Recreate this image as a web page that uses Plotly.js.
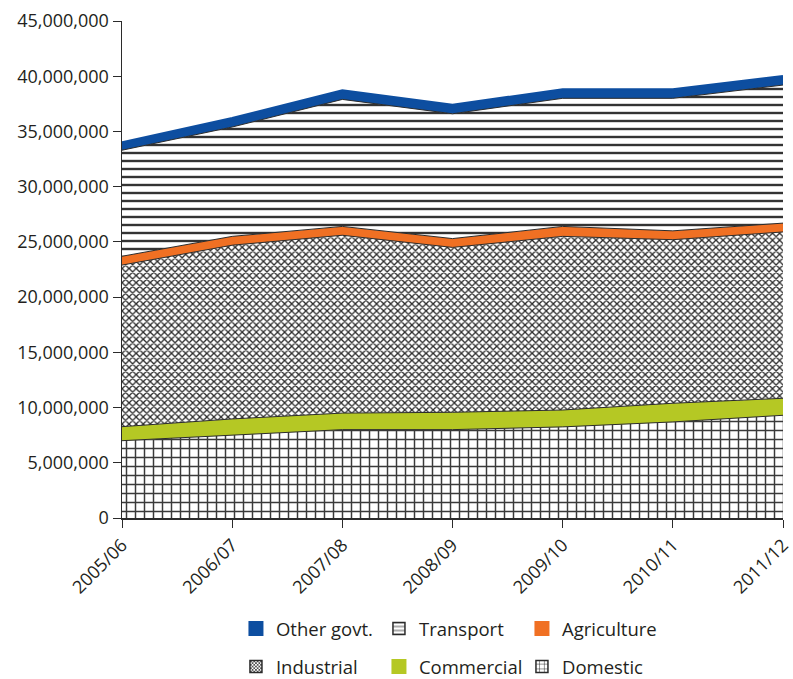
<!DOCTYPE html>
<html>
<head>
<meta charset="utf-8">
<script src="https://cdn.plot.ly/plotly-3.0.1.min.js"></script>
<style>html,body{margin:0;padding:0;background:#fff;}#chart{width:793px;height:679px;}</style>
</head>
<body>
<div id="chart"></div>
<script>
const years = ["2005/06","2006/07","2007/08","2008/09","2009/10","2010/11","2011/12"];
const domestic    = [7000000, 7500000, 8000000, 8000000, 8250000, 8700000, 9300000];
const commercial  = [1270000, 1470000, 1500000, 1570000, 1530000, 1690000, 1540000];
const industrial  = [14630000, 15730000, 16100000, 14930000, 15720000, 14810000, 15060000];
const agriculture = [800000, 800000, 800000, 800000, 900000, 800000, 800000];
const transport   = [9600000, 9900000, 11500000, 11300000, 11600000, 12000000, 12500000];
const otherGovt   = [700000, 800000, 800000, 800000, 800000, 800000, 800000];

const dark = '#2b2b2b';
const blue = '#0d4ea0', orange = '#f07023', green = '#b5c824';

function area(name, y, opts) {
  return Object.assign({
    type: 'scatter', mode: 'lines', x: years, y: y, name: name,
    stackgroup: 'one', line: {color: dark, width: 1}, showlegend: false
  }, opts);
}
// legend-only key entries on a hidden axis pair (nothing is drawn in the plot)
function key(name, legend, marker) {
  return {type: 'bar', x: [0], y: [0], xaxis: 'x2', yaxis: 'y2', name: name,
          legend: legend, showlegend: true, hoverinfo: 'skip',
          marker: Object.assign({line: {color: dark, width: 1.5}}, marker)};
}
const traces = [
  area('Domestic', domestic, {fillcolor: '#ffffff',
     fillpattern: {shape: '+', size: 9, solidity: 0.3, fgcolor: '#3a3a3a', bgcolor: '#ffffff'}}),
  area('Commercial', commercial, {fillcolor: green}),
  area('Industrial', industrial, {fillcolor: '#ffffff',
     fillpattern: {shape: 'x', size: 5, solidity: 0.45, fgcolor: '#2a2a2a', bgcolor: '#ffffff'}}),
  area('Agriculture', agriculture, {fillcolor: orange}),
  area('Transport', transport, {fillcolor: '#ffffff',
     fillpattern: {shape: '-', size: 8, solidity: 0.3, fgcolor: '#333333', bgcolor: '#ffffff'}}),
  area('Other govt.', otherGovt, {fillcolor: blue, line: {color: blue, width: 2.5}}),
  key('Domestic', 'legend2', {color: '#ffffff', pattern: {shape: '+', size: 6, solidity: 0.2, fgcolor: dark, bgcolor: '#ffffff'}}),
  key('Commercial', 'legend2', {color: green, line: {color: green, width: 3}}),
  key('Industrial', 'legend2', {color: '#ffffff', pattern: {shape: 'x', size: 3, solidity: 0.5, fgcolor: dark, bgcolor: '#ffffff'}}),
  key('Agriculture', 'legend', {color: orange, line: {color: orange, width: 3}}),
  key('Transport', 'legend', {color: '#ffffff', pattern: {shape: '-', size: 5, solidity: 0.2, fgcolor: dark, bgcolor: '#ffffff'}}),
  key('Other govt.', 'legend', {color: blue, line: {color: blue, width: 3}})
];

const tickFont = {family: 'Open Sans, Noto Sans, sans-serif', size: 18, color: '#231f20'};
const legFont = {family: 'Open Sans, Noto Sans, sans-serif', size: 18.5, color: '#231f20'};
const legBase = {
  orientation: 'h', traceorder: 'reversed', xanchor: 'left', yanchor: 'middle',
  entrywidth: 98, entrywidthmode: 'pixels', font: legFont, bgcolor: 'rgba(0,0,0,0)'
};
const layout = {
  width: 793, height: 679,
  margin: {l: 122, r: 10, t: 21, b: 161, autoexpand: false},
  paper_bgcolor: '#fff', plot_bgcolor: '#fff',
  font: tickFont,
  showlegend: true,
  xaxis: {
    type: 'category', range: [0, 6], showgrid: false, zeroline: false, automargin: false,
    showline: true, linecolor: dark, linewidth: 1.5,
    ticks: 'outside', ticklen: 8, tickcolor: dark, tickangle: -45,
    tickfont: tickFont
  },
  yaxis: {
    range: [0, 45000000], dtick: 5000000, tickformat: ',d', automargin: false,
    showgrid: false, zeroline: false,
    showline: true, linecolor: dark, linewidth: 1.5,
    ticks: 'outside', ticklen: 8, tickcolor: dark, tickfont: tickFont
  },
  xaxis2: {overlaying: 'x', visible: false, range: [5, 6], fixedrange: true},
  yaxis2: {overlaying: 'y', visible: false, range: [5, 6], fixedrange: true},
  legend: Object.assign({x: 0.1724, y: -0.2233}, legBase),
  legend2: Object.assign({x: 0.1724, y: -0.2998}, legBase)
};
Plotly.newPlot('chart', traces, layout, {displayModeBar: false, staticPlot: true});
</script>
</body>
</html>
